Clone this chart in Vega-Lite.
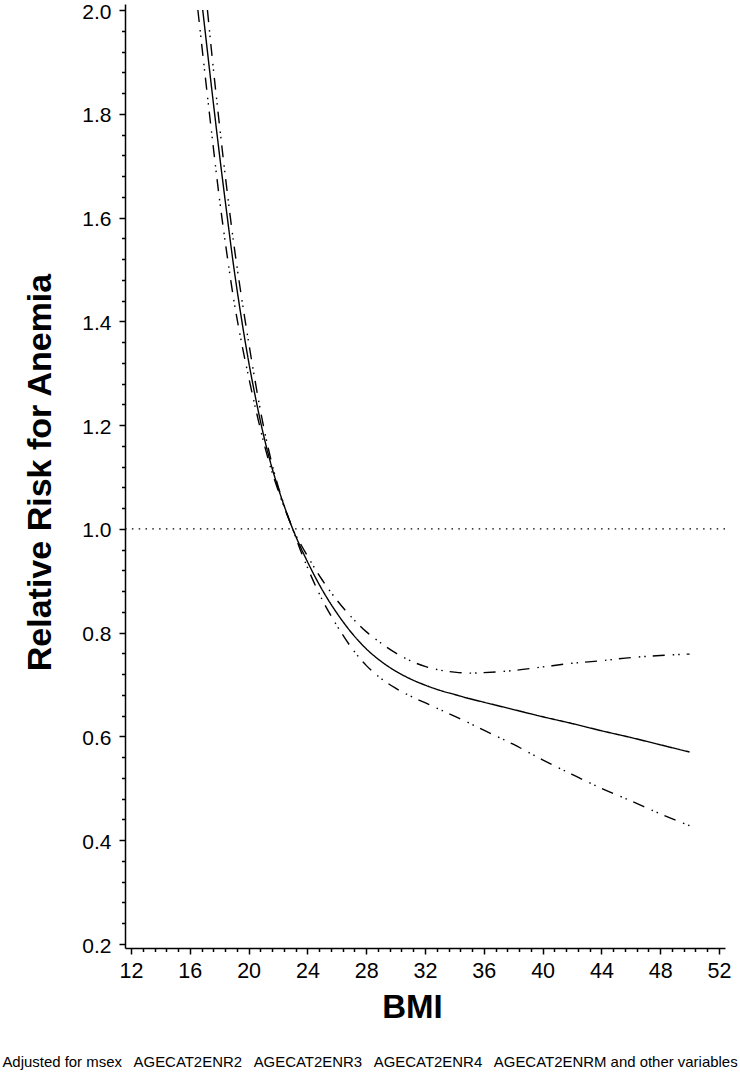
{
  "$schema": "https://vega.github.io/schema/vega-lite/v6.json",
  "width": 600,
  "height": 944,
  "autosize": {"type": "none"},
  "padding": {"left": 125, "top": 4, "right": 15, "bottom": 129},
  "background": "white",
  "config": {"view": {"stroke": null}, "font": "Liberation Sans", "axis": {"labelOverlap": false}},
  "title": {
    "text": "Adjusted for msex\u00a0\u00a0 AGECAT2ENR2\u00a0\u00a0 AGECAT2ENR3\u00a0\u00a0 AGECAT2ENR4\u00a0\u00a0 AGECAT2ENRM and other variables",
    "orient": "bottom",
    "anchor": "middle",
    "frame": "group",
    "font": "Liberation Sans",
    "fontSize": 14.95,
    "fontWeight": "normal",
    "color": "black",
    "offset": 31,
    "dx": -55,
    "baseline": "top"
  },
  "datasets": {
    "curves": [
      {"bmi": 16.88, "rr": 2.000, "s": "est"},
      {"bmi": 17.0, "rr": 1.970, "s": "est"},
      {"bmi": 17.5, "rr": 1.846, "s": "est"},
      {"bmi": 18.0, "rr": 1.726, "s": "est"},
      {"bmi": 18.5, "rr": 1.612, "s": "est"},
      {"bmi": 19.0, "rr": 1.503, "s": "est"},
      {"bmi": 19.5, "rr": 1.408, "s": "est"},
      {"bmi": 20.0, "rr": 1.323, "s": "est"},
      {"bmi": 20.5, "rr": 1.249, "s": "est"},
      {"bmi": 21.0, "rr": 1.183, "s": "est"},
      {"bmi": 21.5, "rr": 1.127, "s": "est"},
      {"bmi": 22.0, "rr": 1.080, "s": "est"},
      {"bmi": 22.5, "rr": 1.038, "s": "est"},
      {"bmi": 23.0, "rr": 1.000, "s": "est"},
      {"bmi": 23.5, "rr": 0.967, "s": "est"},
      {"bmi": 24, "rr": 0.937, "s": "est"},
      {"bmi": 25, "rr": 0.883, "s": "est"},
      {"bmi": 26, "rr": 0.838, "s": "est"},
      {"bmi": 27, "rr": 0.800, "s": "est"},
      {"bmi": 28, "rr": 0.769, "s": "est"},
      {"bmi": 29, "rr": 0.745, "s": "est"},
      {"bmi": 30, "rr": 0.726, "s": "est"},
      {"bmi": 31, "rr": 0.711, "s": "est"},
      {"bmi": 32, "rr": 0.699, "s": "est"},
      {"bmi": 33, "rr": 0.689, "s": "est"},
      {"bmi": 34, "rr": 0.681, "s": "est"},
      {"bmi": 35, "rr": 0.673, "s": "est"},
      {"bmi": 36, "rr": 0.666, "s": "est"},
      {"bmi": 38, "rr": 0.652, "s": "est"},
      {"bmi": 40, "rr": 0.638, "s": "est"},
      {"bmi": 42, "rr": 0.625, "s": "est"},
      {"bmi": 44, "rr": 0.611, "s": "est"},
      {"bmi": 46, "rr": 0.598, "s": "est"},
      {"bmi": 48, "rr": 0.584, "s": "est"},
      {"bmi": 50, "rr": 0.570, "s": "est"},

      {"bmi": 17.2, "rr": 2.000, "s": "upper"},
      {"bmi": 17.5, "rr": 1.915, "s": "upper"},
      {"bmi": 18.0, "rr": 1.783, "s": "upper"},
      {"bmi": 18.5, "rr": 1.660, "s": "upper"},
      {"bmi": 19.0, "rr": 1.548, "s": "upper"},
      {"bmi": 19.5, "rr": 1.450, "s": "upper"},
      {"bmi": 20.0, "rr": 1.360, "s": "upper"},
      {"bmi": 20.5, "rr": 1.276, "s": "upper"},
      {"bmi": 21.0, "rr": 1.200, "s": "upper"},
      {"bmi": 21.5, "rr": 1.136, "s": "upper"},
      {"bmi": 22.0, "rr": 1.083, "s": "upper"},
      {"bmi": 22.5, "rr": 1.039, "s": "upper"},
      {"bmi": 23.0, "rr": 1.000, "s": "upper"},
      {"bmi": 23.5, "rr": 0.973, "s": "upper"},
      {"bmi": 24, "rr": 0.948, "s": "upper"},
      {"bmi": 25, "rr": 0.902, "s": "upper"},
      {"bmi": 26, "rr": 0.863, "s": "upper"},
      {"bmi": 27, "rr": 0.830, "s": "upper"},
      {"bmi": 28, "rr": 0.802, "s": "upper"},
      {"bmi": 29, "rr": 0.780, "s": "upper"},
      {"bmi": 30, "rr": 0.761, "s": "upper"},
      {"bmi": 31, "rr": 0.746, "s": "upper"},
      {"bmi": 32, "rr": 0.735, "s": "upper"},
      {"bmi": 33, "rr": 0.728, "s": "upper"},
      {"bmi": 34, "rr": 0.724, "s": "upper"},
      {"bmi": 35, "rr": 0.722, "s": "upper"},
      {"bmi": 36, "rr": 0.723, "s": "upper"},
      {"bmi": 38, "rr": 0.727, "s": "upper"},
      {"bmi": 40, "rr": 0.734, "s": "upper"},
      {"bmi": 42, "rr": 0.741, "s": "upper"},
      {"bmi": 44, "rr": 0.746, "s": "upper"},
      {"bmi": 46, "rr": 0.752, "s": "upper"},
      {"bmi": 48, "rr": 0.756, "s": "upper"},
      {"bmi": 50, "rr": 0.759, "s": "upper"},

      {"bmi": 16.55, "rr": 2.000, "s": "lower"},
      {"bmi": 17.0, "rr": 1.885, "s": "lower"},
      {"bmi": 17.5, "rr": 1.760, "s": "lower"},
      {"bmi": 18.0, "rr": 1.640, "s": "lower"},
      {"bmi": 18.5, "rr": 1.535, "s": "lower"},
      {"bmi": 19.0, "rr": 1.440, "s": "lower"},
      {"bmi": 19.5, "rr": 1.362, "s": "lower"},
      {"bmi": 20.0, "rr": 1.293, "s": "lower"},
      {"bmi": 20.5, "rr": 1.229, "s": "lower"},
      {"bmi": 21.0, "rr": 1.170, "s": "lower"},
      {"bmi": 21.5, "rr": 1.118, "s": "lower"},
      {"bmi": 22.0, "rr": 1.075, "s": "lower"},
      {"bmi": 22.5, "rr": 1.036, "s": "lower"},
      {"bmi": 23.0, "rr": 1.000, "s": "lower"},
      {"bmi": 23.5, "rr": 0.961, "s": "lower"},
      {"bmi": 24, "rr": 0.926, "s": "lower"},
      {"bmi": 25, "rr": 0.864, "s": "lower"},
      {"bmi": 26, "rr": 0.814, "s": "lower"},
      {"bmi": 27, "rr": 0.771, "s": "lower"},
      {"bmi": 28, "rr": 0.737, "s": "lower"},
      {"bmi": 29, "rr": 0.712, "s": "lower"},
      {"bmi": 30, "rr": 0.693, "s": "lower"},
      {"bmi": 31, "rr": 0.678, "s": "lower"},
      {"bmi": 32, "rr": 0.665, "s": "lower"},
      {"bmi": 33, "rr": 0.652, "s": "lower"},
      {"bmi": 34, "rr": 0.639, "s": "lower"},
      {"bmi": 35, "rr": 0.626, "s": "lower"},
      {"bmi": 36, "rr": 0.612, "s": "lower"},
      {"bmi": 38, "rr": 0.585, "s": "lower"},
      {"bmi": 40, "rr": 0.555, "s": "lower"},
      {"bmi": 42, "rr": 0.527, "s": "lower"},
      {"bmi": 44, "rr": 0.500, "s": "lower"},
      {"bmi": 46, "rr": 0.476, "s": "lower"},
      {"bmi": 48, "rr": 0.451, "s": "lower"},
      {"bmi": 50, "rr": 0.428, "s": "lower"}
    ],
    "reference": [{"rr": 1.0}]
  },
  "layer": [
    {
      "data": {"name": "curves"},
      "mark": {"type": "line", "color": "black", "strokeWidth": 1.4, "interpolate": "monotone", "clip": true},
      "encoding": {
        "x": {
          "field": "bmi",
          "type": "quantitative",
          "scale": {"domain": [11.592, 52.41], "zero": false, "nice": false},
          "axis": {
            "values": [12, 12.8, 13.6, 14.4, 15.2, 16, 16.8, 17.6, 18.4, 19.2, 20, 20.8, 21.6, 22.4, 23.2, 24, 24.8, 25.6, 26.4, 27.2, 28, 28.8, 29.6, 30.4, 31.2, 32, 32.8, 33.6, 34.4, 35.2, 36, 36.8, 37.6, 38.4, 39.2, 40, 40.8, 41.6, 42.4, 43.2, 44, 44.8, 45.6, 46.4, 47.2, 48, 48.8, 49.6, 50.4, 51.2, 52],
            "title": "BMI",
            "titleFontSize": 33,
            "titleFontWeight": "bold",
            "titleColor": "black",
            "titleX": 287,
            "titleY": 69,
            "titleBaseline": "alphabetic",
            "labelColor": "black",
            "labelPadding": 6,
            "labelFlush": false,
            "labelOverlap": false,
            "labelExpr": "abs(datum.value/4 - round(datum.value/4)) < 0.001 ? format(datum.value, 'd') : ''",
            "labelFontSize": {"condition": {"test": "abs(datum.value/4 - round(datum.value/4)) < 0.001", "value": 21.5}, "value": 1},
            "tickSize": {"condition": {"test": "abs(datum.value/4 - round(datum.value/4)) < 0.001", "value": 6}, "value": 3.5},
            "tickColor": "black",
            "tickWidth": 1.5,
            "domainColor": "black",
            "domainWidth": 1.5,
            "grid": false
          }
        },
        "y": {
          "field": "rr",
          "type": "quantitative",
          "scale": {"domain": [0.1923, 2.0116], "zero": false, "nice": false},
          "axis": {
            "values": [0.2, 0.24, 0.28, 0.32, 0.36, 0.4, 0.44, 0.48, 0.52, 0.56, 0.6, 0.64, 0.68, 0.72, 0.76, 0.8, 0.84, 0.88, 0.92, 0.96, 1.0, 1.04, 1.08, 1.12, 1.16, 1.2, 1.24, 1.28, 1.32, 1.36, 1.4, 1.44, 1.48, 1.52, 1.56, 1.6, 1.64, 1.68, 1.72, 1.76, 1.8, 1.84, 1.88, 1.92, 1.96, 2.0],
            "title": "Relative Risk for Anemia",
            "titleFontSize": 34,
            "titleFontWeight": "bold",
            "titleColor": "black",
            "titleX": -75,
            "titleY": 468,
            "titleBaseline": "alphabetic",
            "labelColor": "black",
            "labelPadding": 8,
            "labelOffset": 2,
            "labelFlush": false,
            "labelOverlap": false,
            "labelExpr": "abs(datum.value*5 - round(datum.value*5)) < 0.001 ? format(datum.value, '.1f') : ''",
            "labelFontSize": {"condition": {"test": "abs(datum.value*5 - round(datum.value*5)) < 0.001", "value": 21}, "value": 1},
            "tickSize": {"condition": {"test": "abs(datum.value*5 - round(datum.value*5)) < 0.001", "value": 6}, "value": 3.5},
            "tickColor": "black",
            "tickWidth": 1.5,
            "domainColor": "black",
            "domainWidth": 1.5,
            "grid": false
          }
        },
        "strokeDash": {
          "field": "s",
          "type": "nominal",
          "scale": {"domain": ["est", "lower", "upper"], "range": [[1, 0], [12, 8, 1.5, 4, 1.5, 7], [12, 8, 1.5, 4, 1.5, 7]]},
          "legend": null
        }
      }
    },
    {
      "data": {"name": "reference"},
      "mark": {"type": "rule", "color": "black", "strokeWidth": 1.4, "strokeDash": [1.5, 5.3]},
      "encoding": {
        "y": {
          "field": "rr",
          "type": "quantitative",
          "scale": {"domain": [0.1923, 2.0116], "zero": false, "nice": false},
          "axis": {
            "values": [0.2, 0.24, 0.28, 0.32, 0.36, 0.4, 0.44, 0.48, 0.52, 0.56, 0.6, 0.64, 0.68, 0.72, 0.76, 0.8, 0.84, 0.88, 0.92, 0.96, 1.0, 1.04, 1.08, 1.12, 1.16, 1.2, 1.24, 1.28, 1.32, 1.36, 1.4, 1.44, 1.48, 1.52, 1.56, 1.6, 1.64, 1.68, 1.72, 1.76, 1.8, 1.84, 1.88, 1.92, 1.96, 2.0],
            "title": "Relative Risk for Anemia",
            "titleFontSize": 34,
            "titleFontWeight": "bold",
            "titleColor": "black",
            "titleX": -75,
            "titleY": 468,
            "titleBaseline": "alphabetic",
            "labelColor": "black",
            "labelPadding": 8,
            "labelOffset": 2,
            "labelFlush": false,
            "labelOverlap": false,
            "labelExpr": "abs(datum.value*5 - round(datum.value*5)) < 0.001 ? format(datum.value, '.1f') : ''",
            "labelFontSize": {"condition": {"test": "abs(datum.value*5 - round(datum.value*5)) < 0.001", "value": 21}, "value": 1},
            "tickSize": {"condition": {"test": "abs(datum.value*5 - round(datum.value*5)) < 0.001", "value": 6}, "value": 3.5},
            "tickColor": "black",
            "tickWidth": 1.5,
            "domainColor": "black",
            "domainWidth": 1.5,
            "grid": false
          }
        }
      }
    }
  ]
}
